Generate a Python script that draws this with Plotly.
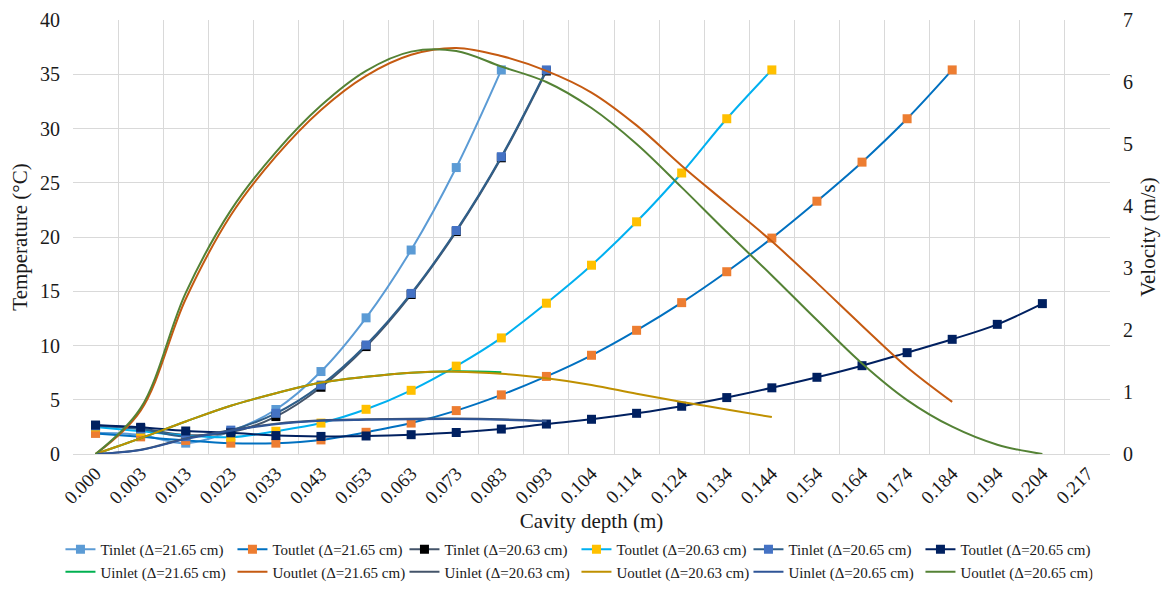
import plotly.graph_objects as go

# ---------------- data ----------------
depth_labels = ["0.000", "0.003", "0.013", "0.023", "0.033", "0.043", "0.053", "0.063",
                "0.073", "0.083", "0.093", "0.104", "0.114", "0.124", "0.134", "0.144",
                "0.154", "0.164", "0.174", "0.184", "0.194", "0.204", "0.217"]

# Temperatures (°C)
tinlet_2165 = [1.95, 1.75, 1.0, 2.1, 4.1, 7.6, 12.55, 18.8, 26.4, 35.4]
toutlet_2165 = [1.9, 1.58, 1.25, 1.0, 1.0, 1.3, 2.0, 2.85, 4.0, 5.45, 7.15, 9.1, 11.4,
                13.95, 16.8, 19.9, 23.3, 26.9, 30.9, 35.4]
tinlet_2063 = [2.6, 2.35, 1.75, 2.0, 3.45, 6.15, 9.9, 14.7, 20.5, 27.3, 35.3]
toutlet_2063 = [2.5, 2.1, 1.7, 1.55, 2.1, 2.85, 4.12, 5.87, 8.1, 10.7, 13.9, 17.4, 21.4,
                25.9, 30.9, 35.4]
tinlet_2065 = [2.6, 2.3, 1.6, 2.2, 3.75, 6.35, 10.05, 14.8, 20.6, 27.4, 35.4]
toutlet_2065 = [2.67, 2.46, 2.12, 1.95, 1.7, 1.62, 1.66, 1.78, 1.98, 2.3, 2.76, 3.2, 3.75,
                4.4, 5.2, 6.1, 7.07, 8.14, 9.34, 10.57, 11.95, 13.86]

# Velocities (m/s)
uinlet_2165 = [0, 0.254, 0.525, 0.779, 0.98, 1.152, 1.246, 1.312, 1.335, 1.318]
uoutlet_2165 = [0, 0.7, 2.5, 3.85, 4.8, 5.55, 6.1, 6.44, 6.55, 6.42, 6.18, 5.83, 5.3,
                4.65, 4.04, 3.43, 2.76, 2.07, 1.4, 0.84]
uinlet_2063 = [0, 0.07, 0.25, 0.385, 0.49, 0.545, 0.56, 0.57, 0.572, 0.56, 0.534]
uoutlet_2063 = [0, 0.254, 0.525, 0.779, 0.98, 1.152, 1.246, 1.312, 1.328, 1.295, 1.22,
                1.113, 0.971, 0.84, 0.718, 0.595]
uinlet_2065 = [0, 0.065, 0.24, 0.375, 0.48, 0.535, 0.552, 0.562, 0.565, 0.553, 0.528]
uoutlet_2065 = [0, 0.74, 2.6, 3.93, 4.87, 5.62, 6.18, 6.49, 6.5, 6.25, 6.0, 5.58, 5.0,
                4.3, 3.58, 2.88, 2.16, 1.46, 0.87, 0.44, 0.15, 0.0]

FONT = "Liberation Serif"
GRID = "#D9D9D9"

fig = go.Figure()


def add_t(name, vals, mcolor, lcolor):
    fig.add_trace(go.Scatter(
        x=depth_labels[:len(vals)], y=vals, name=name, mode="lines+markers",
        line=dict(color=lcolor, width=2, shape="spline", smoothing=1),
        marker=dict(symbol="square", size=9, color=mcolor, line=dict(width=0)),
        yaxis="y"))


def add_u(name, vals, color):
    fig.add_trace(go.Scatter(
        x=depth_labels[:len(vals)], y=vals, name=name, mode="lines",
        line=dict(color=color, width=2, shape="spline", smoothing=1),
        yaxis="y2"))


add_t("Tinlet (Δ=21.65 cm)", tinlet_2165, "#5B9BD5", "#5B9BD5")
add_t("Toutlet (Δ=21.65 cm)", toutlet_2165, "#ED7D31", "#0070C0")
add_t("Tinlet (Δ=20.63 cm)", tinlet_2063, "#000000", "#44546A")
add_t("Toutlet (Δ=20.63 cm)", toutlet_2063, "#FFC000", "#00B0F0")
add_t("Tinlet (Δ=20.65 cm)", tinlet_2065, "#4472C4", "#2F5F8A")
add_t("Toutlet (Δ=20.65 cm)", toutlet_2065, "#002060", "#002060")

add_u("Uinlet (Δ=21.65 cm)", uinlet_2165, "#00B050")
add_u("Uoutlet (Δ=21.65 cm)", uoutlet_2165, "#C55A11")
add_u("Uinlet (Δ=20.63 cm)", uinlet_2063, "#44546A")
add_u("Uoutlet (Δ=20.63 cm)", uoutlet_2063, "#BF9000")
add_u("Uinlet (Δ=20.65 cm)", uinlet_2065, "#2F5597")
add_u("Uoutlet (Δ=20.65 cm)", uoutlet_2065, "#548235")

fig.update_layout(
    width=1169, height=598,
    margin=dict(l=73, r=59, t=20, b=144, autoexpand=False),
    paper_bgcolor="white", plot_bgcolor="white",
    font=dict(family=FONT, color="#1a1a1a"),
    showlegend=True,
    xaxis=dict(
        type="category", categoryorder="array", categoryarray=depth_labels,
        range=[-0.5, 22.5], tickson="boundaries", showgrid=True, gridcolor=GRID,
        gridwidth=1, tickangle=-45, tickfont=dict(size=19, family=FONT),
        ticks="", showline=True, linecolor=GRID, linewidth=1, automargin=False,
        title=dict(text="Cavity depth (m)", font=dict(size=21, family=FONT), standoff=6),
    ),
    yaxis=dict(
        range=[0, 40], dtick=5, showgrid=True, gridcolor=GRID, gridwidth=1,
        zeroline=False, showline=False, ticks="", ticklabelstandoff=12,
        tickfont=dict(size=20, family=FONT), automargin=False,
        title=dict(text="Temperature (°C)", font=dict(size=21, family=FONT), standoff=6),
    ),
    yaxis2=dict(
        overlaying="y", side="right", range=[0, 7], dtick=1, showgrid=False,
        zeroline=False, showline=False, ticks="", ticklabelstandoff=12,
        tickfont=dict(size=20, family=FONT), automargin=False,
        title=dict(text="Velocity (m/s)", font=dict(size=21, family=FONT), standoff=8),
    ),
    legend=dict(
        orientation="h", x=0.4855, xanchor="center", y=-0.182, yanchor="top",
        font=dict(size=15, family=FONT), entrywidth=127, entrywidthmode="pixels",
        itemwidth=30, bgcolor="rgba(0,0,0,0)",
    ),
)

fig.write_html("out.html", config={"displayModeBar": False},
               post_script="document.body.style.margin='0';")
